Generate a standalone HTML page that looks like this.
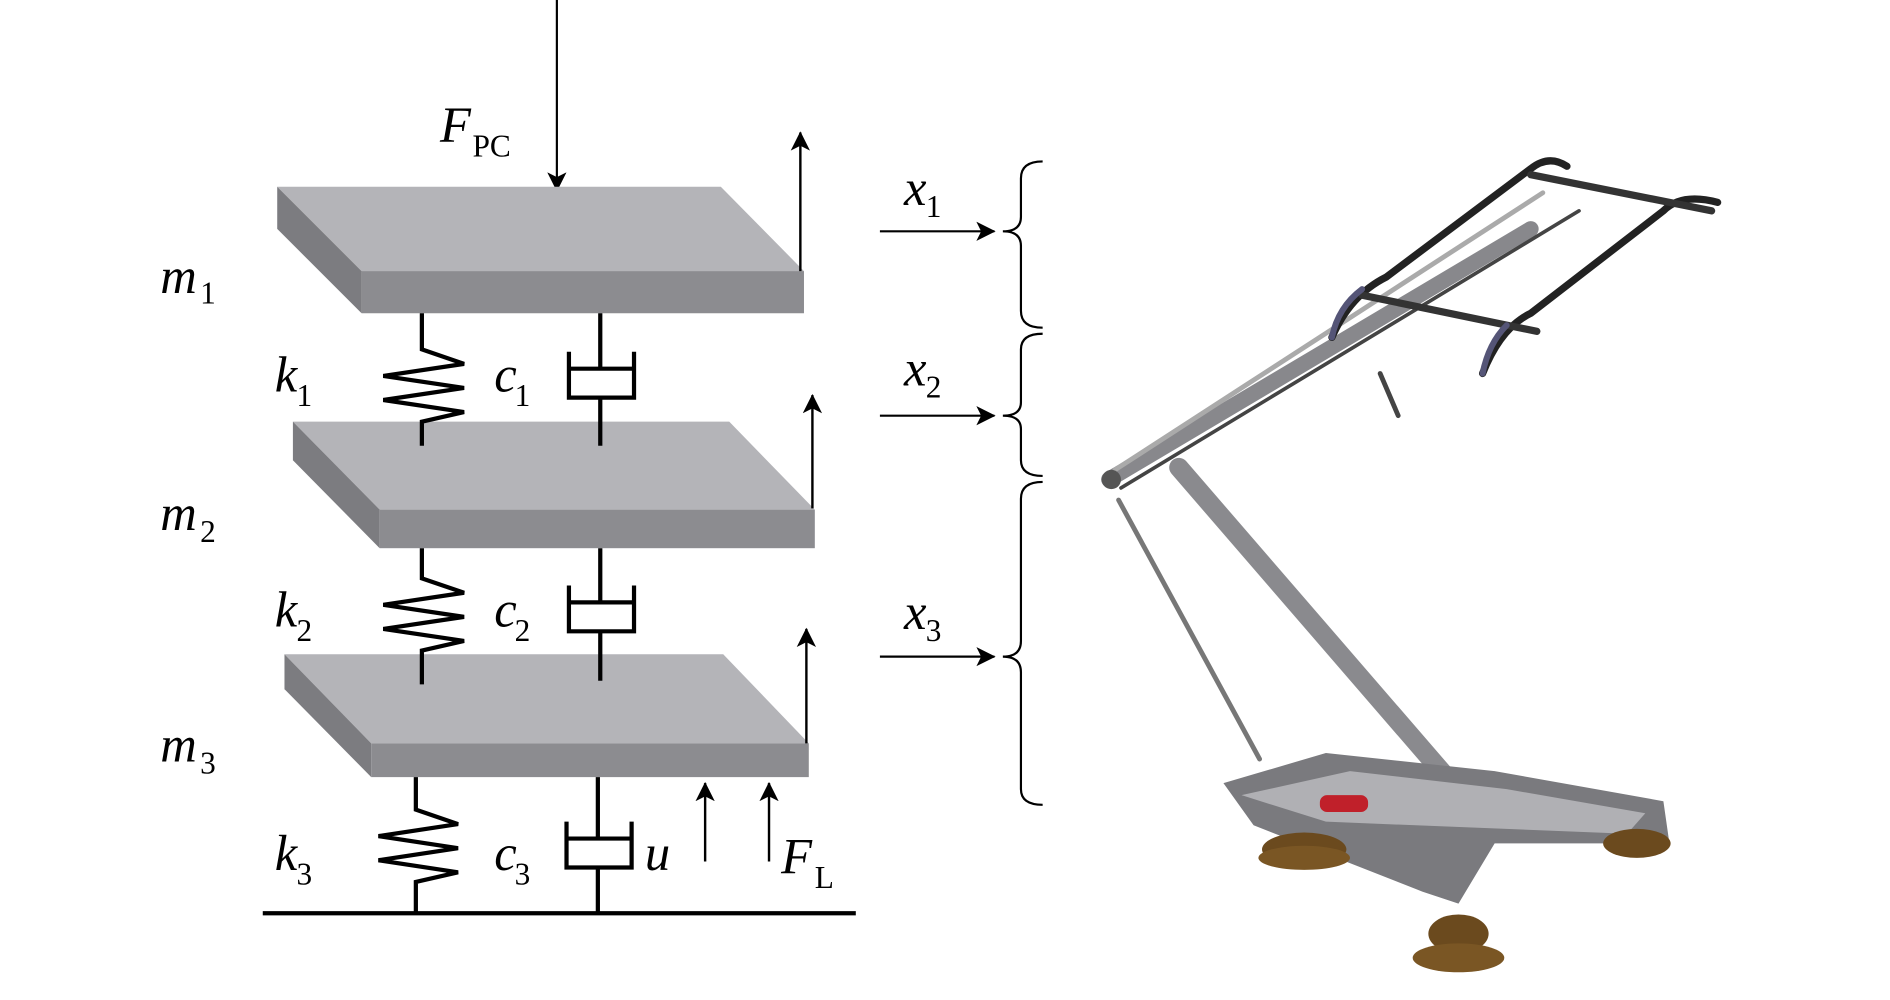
<!DOCTYPE html>
<html><head><meta charset="utf-8"><style>
html,body{margin:0;padding:0;background:#fff;width:1890px;height:1000px;overflow:hidden}
svg{display:block}
text{font-family:"Liberation Serif",serif}
.it{font-style:italic}
</style></head><body>
<svg width="1890" height="1000" viewBox="0 0 1568 830" preserveAspectRatio="none" xmlns="http://www.w3.org/2000/svg">
<defs>
<marker id="ahb" markerWidth="16" markerHeight="22" refX="15" refY="8" orient="auto" markerUnits="userSpaceOnUse"><path d="M0,0 L16,8 L0,16 L4,8 Z" fill="#000"/></marker>
</defs>
<g stroke="#000" stroke-width="1.8" fill="none">
<line x1="462" y1="0" x2="462" y2="158" marker-end="url(#ahb)"/>
</g>
<g>
<polygon points="230,155 598,155 667,225 300,225" fill="#b4b4b8"/>
<polygon points="230,155 300,225 300,260 230,190" fill="#7c7c80"/>
<rect x="300" y="225" width="367" height="35" fill="#8c8c90"/>
<polygon points="243,350 605,350 676,423 315,423" fill="#b4b4b8"/>
<polygon points="243,350 315,423 315,455 243,382" fill="#7c7c80"/>
<rect x="315" y="423" width="361" height="32" fill="#8c8c90"/>
<polygon points="236,543 600,543 671,617 308,617" fill="#b4b4b8"/>
<polygon points="236,543 308,617 308,645 236,572" fill="#7c7c80"/>
<rect x="308" y="617" width="363" height="28" fill="#8c8c90"/>
</g>
<g stroke="#000" stroke-width="2" fill="none">
<line x1="664" y1="225" x2="664" y2="110" marker-end="url(#ahb)"/>
<line x1="674" y1="422" x2="674" y2="328" marker-end="url(#ahb)"/>
<line x1="669" y1="617" x2="669" y2="522" marker-end="url(#ahb)"/>
<line x1="585" y1="715" x2="585" y2="650" marker-end="url(#ahb)"/>
<line x1="638" y1="715" x2="638" y2="650" marker-end="url(#ahb)"/>
</g>
<g stroke="#000" stroke-width="3.5" fill="none" stroke-linejoin="miter">
<polyline points="350,260 350,290 385,302 318,312 385,322 318,332 385,342 350,350 350,370"/>
<polyline points="350,455 350,480 385,492 318,502 385,512 318,522 385,532 350,540 350,568"/>
<polyline points="345,645 345,672 380,684 314,694 380,704 314,714 380,724 345,732 345,758"/>
<line x1="498" y1="260" x2="498" y2="306"/><polyline points="472,292 472,330 526,330 526,292"/><line x1="472" y1="306" x2="526" y2="306"/><line x1="498" y1="330" x2="498" y2="370"/>
<line x1="498" y1="455" x2="498" y2="500"/><polyline points="472,486 472,524 526,524 526,486"/><line x1="472" y1="500" x2="526" y2="500"/><line x1="498" y1="524" x2="498" y2="565"/>
<line x1="496" y1="645" x2="496" y2="696"/><polyline points="470,682 470,720 524,720 524,682"/><line x1="470" y1="696" x2="524" y2="696"/><line x1="496" y1="720" x2="496" y2="758"/>
<line x1="218" y1="758" x2="710" y2="758"/>
</g>
<g stroke="#000" stroke-width="1.8" fill="none">
<line x1="730" y1="192" x2="825" y2="192" marker-end="url(#ahb)"/>
<line x1="730" y1="345" x2="825" y2="345" marker-end="url(#ahb)"/>
<line x1="730" y1="545" x2="825" y2="545" marker-end="url(#ahb)"/>
<path d="M865,134 Q847,134 847,148 L847,180 Q847,192 832,192 Q847,192 847,204 L847,258 Q847,272 865,272"/>
<path d="M865,277 Q847,277 847,290 L847,334 Q847,345 832,345 Q847,345 847,356 L847,382 Q847,395 865,395"/>
<path d="M865,400 Q847,400 847,414 L847,532 Q847,545 832,545 Q847,545 847,558 L847,655 Q847,668 865,668"/>
</g>
<g font-size="42" fill="#000">
<text x="365" y="118" class="it">F</text><text x="392" y="130" font-size="26">PC</text>
<text x="133" y="243" class="it">m</text><text x="166" y="252" font-size="26">1</text>
<text x="133" y="440" class="it">m</text><text x="166" y="450" font-size="26">2</text>
<text x="133" y="632" class="it">m</text><text x="166" y="642" font-size="26">3</text>
<text x="228" y="325" class="it">k</text><text x="246" y="337" font-size="26">1</text>
<text x="228" y="520" class="it">k</text><text x="246" y="532" font-size="26">2</text>
<text x="228" y="722" class="it">k</text><text x="246" y="734" font-size="26">3</text>
<text x="410" y="325" class="it">c</text><text x="427" y="337" font-size="26">1</text>
<text x="410" y="520" class="it">c</text><text x="427" y="532" font-size="26">2</text>
<text x="410" y="722" class="it">c</text><text x="427" y="734" font-size="26">3</text>
<text x="535" y="722" class="it">u</text>
<text x="648" y="725" class="it">F</text><text x="676" y="737" font-size="26">L</text>
<text x="750" y="170" class="it">x</text><text x="768" y="180" font-size="26">1</text>
<text x="750" y="320" class="it">x</text><text x="768" y="330" font-size="26">2</text>
<text x="750" y="522" class="it">x</text><text x="768" y="532" font-size="26">3</text>
</g>
<g fill="none" stroke-linecap="round">
<line x1="928" y1="415" x2="1045" y2="630" stroke="#777" stroke-width="4"/>
<line x1="978" y1="388" x2="1200" y2="645" stroke="#8a8a8e" stroke-width="16"/>
<line x1="920" y1="398" x2="1270" y2="190" stroke="#88888c" stroke-width="13"/>
<line x1="930" y1="405" x2="1310" y2="175" stroke="#444" stroke-width="3"/>
<line x1="925" y1="390" x2="1280" y2="160" stroke="#aaa" stroke-width="4"/>
<path d="M1105,280 Q1120,245 1150,230 L1270,140 Q1285,128 1300,138" stroke="#222" stroke-width="6"/>
<path d="M1230,310 Q1245,272 1270,260 L1380,175 Q1395,160 1425,168" stroke="#222" stroke-width="6"/>
<line x1="1130" y1="245" x2="1275" y2="275" stroke="#333" stroke-width="6"/>
<line x1="1270" y1="145" x2="1420" y2="175" stroke="#333" stroke-width="6"/>
<path d="M1105,280 Q1110,255 1130,240" stroke="#557" stroke-width="5"/>
<path d="M1230,310 Q1235,285 1250,270" stroke="#557" stroke-width="5"/>
<line x1="1145" y1="310" x2="1160" y2="345" stroke="#444" stroke-width="4"/>
<circle cx="922" cy="398" r="8" fill="#555" stroke="none"/>
</g>
<polygon points="1015,650 1100,625 1240,640 1380,665 1385,700 1240,700 1210,750 1180,740 1040,685" fill="#7a7a7e"/>
<polygon points="1030,660 1120,640 1250,655 1365,675 1350,692 1100,682" fill="#b0b0b4"/>
<rect x="1095" y="660" width="40" height="14" rx="6" fill="#c0202a"/>
<ellipse cx="1082" cy="705" rx="35" ry="14" fill="#6b4a1e"/>
<ellipse cx="1082" cy="712" rx="38" ry="10" fill="#7a5624"/>
<ellipse cx="1358" cy="700" rx="28" ry="12" fill="#6b4a1e"/>
<ellipse cx="1210" cy="775" rx="25" ry="16" fill="#6b4a1e"/>
<ellipse cx="1210" cy="795" rx="38" ry="12" fill="#7a5624"/>
</svg>
</body></html>
